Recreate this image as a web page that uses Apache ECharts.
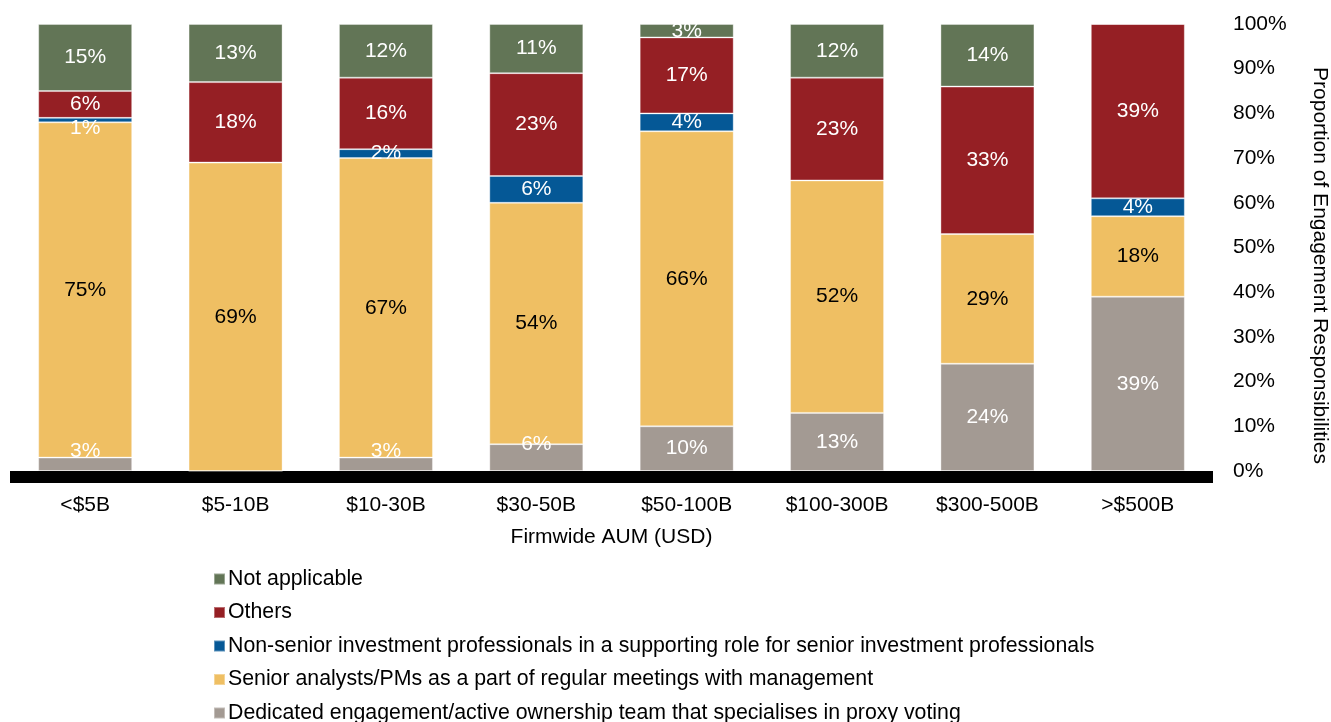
<!DOCTYPE html>
<html>
<head>
<meta charset="utf-8">
<script src="https://cdn.jsdelivr.net/npm/echarts@6/dist/echarts.min.js"></script>
<style>
  html, body { margin: 0; padding: 0; background: #fff; }
  #c1 { width: 1331px; height: 722px; }
</style>
</head>
<body>
<div id="c1"></div>
<script>
var categories = ["<$5B", "$5-10B", "$10-30B", "$30-50B", "$50-100B", "$100-300B", "$300-500B", ">$500B"];
var dedicated = [3, 0, 3, 6, 10, 13, 24, 39];
var senior = [75, 69, 67, 54, 66, 52, 29, 18];
var nonSenior = [1, 0, 2, 6, 4, 0, 0, 4];
var others = [6, 18, 16, 23, 17, 23, 33, 39];
var notApplicable = [15, 13, 12, 11, 3, 12, 14, 0];
var yTicks = [0, 10, 20, 30, 40, 50, 60, 70, 80, 90, 100];

var FONT = "Liberation Sans, Arial, sans-serif";

function makeSeries(name, values, color, textColor) {
  return {
    name: name,
    type: "bar",
    stack: "total",
    barWidth: 94,
    data: values.map(function (v) {
      var item = { value: v };
      // small labels were nudged off their segment in the original
      if (name.indexOf("Dedicated") === 0 && v > 0 && v < 10) {
        item.label = { offset: [0, -13] };
      }
      if (v === 1) {
        item.label = { offset: [0, 8] };
      }
      return item;
    }),
    itemStyle: {
      color: color,
      borderColor: "rgba(255,255,255,0.35)",
      borderWidth: 1,
    },
    label: {
      show: true,
      position: "inside",
      color: textColor,
      fontFamily: FONT,
      fontSize: 21,
      formatter: function (p) {
        return p.value > 0 ? p.value + "%" : "";
      },
    },
  };
}

var chart = echarts.init(document.getElementById("c1"));
var option = {
  animation: false,
  backgroundColor: "#fff",
  grid: {
    left: 10,
    right: 118,
    top: 24,
    bottom: 251,
    outerBoundsMode: "none",
  },
  legend: {
    orient: "vertical",
    left: 208,
    top: 563,
    height: 220,
    itemWidth: 11,
    itemHeight: 11,
    itemGap: 11.5,
    icon: "rect",
    textStyle: { fontFamily: FONT, fontSize: 21.3, lineHeight: 22, color: "#000", padding: [0, 0, 0, -2] },
    data: [
      "Not applicable",
      "Others",
      "Non-senior investment professionals in a supporting role for senior investment professionals",
      "Senior analysts/PMs as a part of regular meetings with management",
      "Dedicated engagement/active ownership team that specialises in proxy voting",
    ],
  },
  xAxis: {
    type: "category",
    data: categories,
    offset: 6,
    axisLine: { show: true, onZero: false, lineStyle: { color: "#000", width: 12, cap: "butt" } },
    axisTick: { show: false },
    axisLabel: { fontFamily: FONT, fontSize: 21, color: "#000", margin: 18 },
    name: "Firmwide AUM (USD)",
    nameLocation: "middle",
    nameGap: 50,
    nameTextStyle: { fontFamily: FONT, fontSize: 21, color: "#000" },
  },
  yAxis: {
    type: "value",
    position: "right",
    min: yTicks[0],
    max: yTicks[yTicks.length - 1],
    interval: 10,
    splitLine: { show: false },
    axisLine: { show: false },
    axisTick: { show: false },
    axisLabel: {
      fontFamily: FONT,
      fontSize: 21,
      color: "#000",
      margin: 20,
      formatter: "{value}%",
    },
    name: "Proportion of Engagement Responsibilities",
    nameLocation: "middle",
    nameRotate: -90,
    nameGap: 96,
    nameTextStyle: { fontFamily: FONT, fontSize: 21, color: "#000", padding: [0, 0, 0, 36] },
  },
  series: [
    makeSeries("Dedicated engagement/active ownership team that specialises in proxy voting", dedicated, "#a39a93", "#fff"),
    makeSeries("Senior analysts/PMs as a part of regular meetings with management", senior, "#efbf63", "#000"),
    makeSeries("Non-senior investment professionals in a supporting role for senior investment professionals", nonSenior, "#055896", "#fff"),
    makeSeries("Others", others, "#951f24", "#fff"),
    makeSeries("Not applicable", notApplicable, "#627556", "#fff"),
  ],
};
chart.setOption(option);
window.addEventListener("resize", function () {
  chart.resize();
});
</script>
</body>
</html>
